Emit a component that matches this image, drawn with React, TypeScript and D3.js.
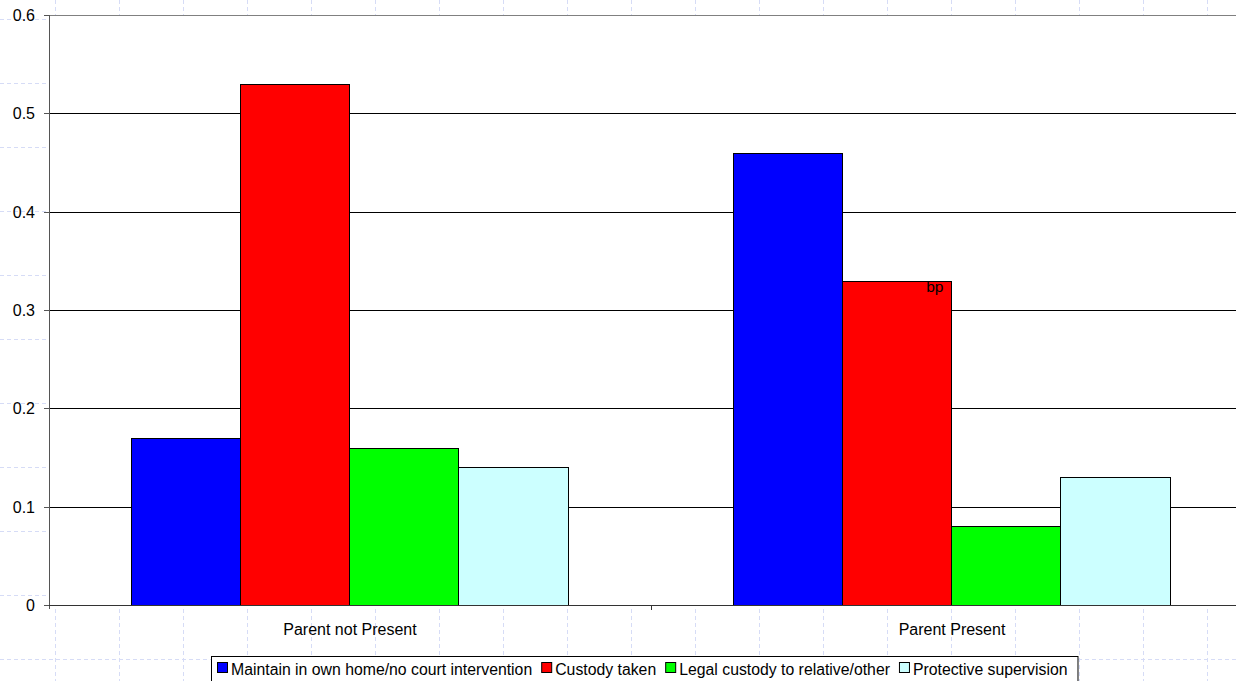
import React, { useEffect, useRef } from "react";
import * as d3 from "d3";

const categories = ["Parent not Present", "Parent Present"];
const seriesNames = [
  "Maintain in own home/no court intervention",
  "Custody taken",
  "Legal custody to relative/other",
  "Protective supervision",
];
const seriesColors = ["#0000ff", "#ff0000", "#00ff00", "#ccffff"];
const maintainValues = [0.17, 0.46];
const custodyValues = [0.53, 0.33];
const legalValues = [0.16, 0.08];
const protectiveValues = [0.14, 0.13];
const yTicks = [0, 0.1, 0.2, 0.3, 0.4, 0.5, 0.6];
const annotation = { text: "bp", category: "Parent Present", series: 1 };

const W = 1236;
const H = 681;
const FONT = "'Liberation Sans', Arial, sans-serif";

export default function App() {
  const ref = useRef<SVGSVGElement>(null);

  useEffect(() => {
    const svg = d3.select(ref.current);
    svg.selectAll("*").remove();

    const left = 49, top = 15, bottom = 605, plotRight = 1253;
    const seriesValues = [maintainValues, custodyValues, legalValues, protectiveValues];

    // background page grid
    const bg = svg.append("g");
    d3.range(55, W, 64).forEach((x) =>
      bg.append("line").attr("x1", x + 0.5).attr("x2", x + 0.5).attr("y1", 0).attr("y2", H)
        .attr("stroke", "#d6dcf6").attr("stroke-dasharray", "4,3"));
    d3.range(19, H, 64).forEach((y) =>
      bg.append("line").attr("y1", y + 0.5).attr("y2", y + 0.5).attr("x1", 0).attr("x2", W)
        .attr("stroke", "#d6dcf6").attr("stroke-dasharray", "4,3"));

    const x0 = d3.scaleBand().domain(categories).range([left, plotRight]).paddingInner(0).paddingOuter(0);
    const y = d3.scaleLinear().domain([0, 0.6]).range([bottom, top]);
    const bw = x0.bandwidth();
    const x1 = d3.scaleBand().domain(d3.range(4).map(String))
      .range([bw * (82 / 602), bw * (1 - 83 / 602)]).padding(0);

    svg.append("rect").attr("x", left).attr("y", top).attr("width", W - left).attr("height", bottom - top)
      .attr("fill", "#ffffff");

    // gridlines
    yTicks.forEach((t) => {
      if (t === 0) return;
      svg.append("line").attr("x1", left).attr("x2", W).attr("y1", Math.round(y(t)) + 0.5).attr("y2", Math.round(y(t)) + 0.5)
        .attr("stroke", t === 0.6 ? "#808080" : "#000000").attr("stroke-width", 1);
    });

    // bars
    categories.forEach((c, ci) => {
      seriesValues.forEach((vals, si) => {
        const bx = Math.floor((x0(c) as number) + (x1(String(si)) as number));
        const bx2 = Math.floor((x0(c) as number) + (x1(String(si)) as number) + x1.bandwidth());
        svg.append("rect")
          .attr("x", bx + 0.5)
          .attr("y", Math.round(y(vals[ci])) + 0.5)
          .attr("width", bx2 - bx)
          .attr("height", bottom - Math.round(y(vals[ci])))
          .attr("fill", seriesColors[si])
          .attr("stroke", "#000000").attr("stroke-width", 1);
      });
    });

    // annotation
    {
      const si = annotation.series;
      const ci = categories.indexOf(annotation.category);
      const bx = (x0(annotation.category) as number) + (x1(String(si)) as number) + x1.bandwidth();
      svg.append("text").attr("x", bx - 8).attr("y", y(seriesValues[si][ci]) + 11)
        .attr("text-anchor", "end").attr("font-family", FONT).attr("font-size", 15.5)
        .attr("fill", "#000").text(annotation.text);
    }

    // axes
    svg.append("line").attr("x1", left + 0.5).attr("x2", left + 0.5).attr("y1", top).attr("y2", bottom + 4)
      .attr("stroke", "#555555");
    svg.append("line").attr("x1", left).attr("x2", W).attr("y1", bottom + 0.5).attr("y2", bottom + 0.5)
      .attr("stroke", "#333333");
    yTicks.forEach((t) => {
      const yy = Math.round(y(t)) + 0.5;
      svg.append("line").attr("x1", left - 5).attr("x2", left).attr("y1", yy).attr("y2", yy).attr("stroke", "#555555");
      svg.append("text").attr("x", 35).attr("y", yy).attr("dy", "0.35em")
        .attr("text-anchor", "end").attr("font-family", FONT).attr("font-size", 16).attr("fill", "#000")
        .text(t === 0 ? "0" : d3.format(".1f")(t));
    });
    categories.forEach((c, i) => {
      if (i > 0) {
        const xx = Math.round(x0(c) as number) + 0.5;
        svg.append("line").attr("x1", xx).attr("x2", xx).attr("y1", bottom).attr("y2", bottom + 5).attr("stroke", "#333333");
      }
      svg.append("text").attr("x", (x0(c) as number) + x0.bandwidth() / 2).attr("y", 635)
        .attr("text-anchor", "middle").attr("font-family", FONT).attr("font-size", 16).attr("fill", "#000").text(c);
    });

    // legend
    const lg = svg.append("g");
    const box = lg.append("rect").attr("x", 211.5).attr("y", 656.5).attr("height", 40)
      .attr("fill", "#ffffff").attr("stroke", "#000000");
    let cx = 217;
    seriesNames.forEach((n, i) => {
      lg.append("rect").attr("x", cx + 0.5).attr("y", 662.5).attr("width", 10).attr("height", 10)
        .attr("fill", seriesColors[i]).attr("stroke", "#000");
      const t = lg.append("text").attr("x", cx + 14).attr("y", 675).attr("font-family", FONT)
        .attr("font-size", 15.8).attr("fill", "#000").text(n);
      const w = (t.node() as SVGTextElement).getComputedTextLength();
      cx = cx + 14 + w + 9;
    });
    box.attr("width", cx - 9 + 10 - 211);
  }, []);

  return (
    <svg ref={ref} width={W} height={H}
      style={{ position: "absolute", left: 0, top: 0, background: "#ffffff" }} />
  );
}
